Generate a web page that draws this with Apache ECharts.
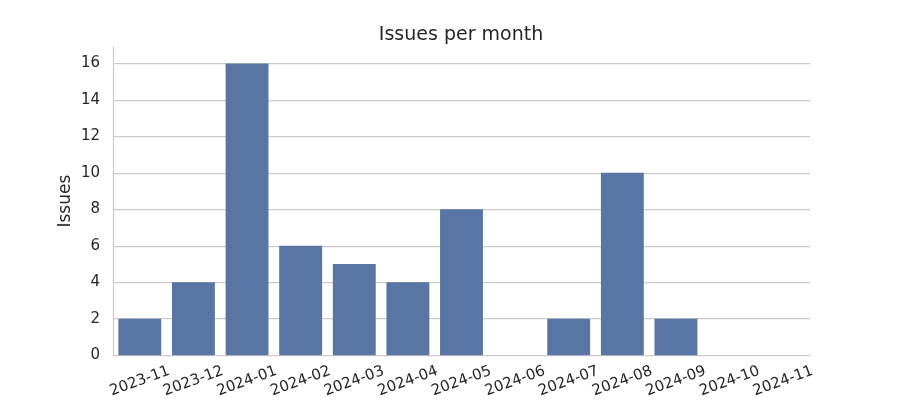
<!DOCTYPE html>
<html><head><meta charset="utf-8">
<script src="https://cdn.jsdelivr.net/npm/echarts@6/dist/echarts.min.js"></script>
<style>html,body{margin:0;padding:0;background:#fff}#c{width:900px;height:400px}</style>
</head><body><div id="c"></div>
<script>
const months = ['2023-11','2023-12','2024-01','2024-02','2024-03','2024-04','2024-05','2024-06','2024-07','2024-08','2024-09','2024-10','2024-11'];
const issues = [2,4,16,6,5,4,8,0,2,10,2,0,0];
const chart = echarts.init(document.getElementById('c'), null, {renderer:'canvas'});
const font = 'DejaVu Sans';
chart.setOption({
  animation:false,
  backgroundColor:'#ffffff',
  title:{text:'Issues per month', left:456, top:21, textAlign:'center',
    textStyle:{fontFamily:font, fontSize:19, fontWeight:'normal', color:'#262626'}},
  grid:{left:113, right:90, top:47, bottom:44, containLabel:false},
  xAxis:{type:'category', data:months, boundaryGap:true,
    axisLine:{show:true, lineStyle:{color:'#cccccc', width:1.25}},
    axisTick:{show:false},
    axisLabel:{rotate:20, align:'center', verticalAlign:'middle', margin:26, interval:0,
      fontFamily:font, fontSize:15, color:'#262626'},
    splitLine:{show:false}},
  yAxis:{type:'value', min:0, max:16.9, interval:2,
    name:'Issues', nameLocation:'middle', nameGap:39, nameRotate:90, nameMoveOverlap:false,
    nameTextStyle:{fontFamily:font, fontSize:17, color:'#262626'},
    axisLine:{show:true, lineStyle:{color:'#cccccc', width:1.25}},
    axisTick:{show:false},
    axisLabel:{showMaxLabel:false, margin:13, fontFamily:font, fontSize:15, color:'#262626'},
    splitLine:{show:true, showMinLine:false, showMaxLine:false, lineStyle:{color:'#cccccc', width:1.25}}},
  series:[{type:'bar', data:issues, barCategoryGap:'20%',
    itemStyle:{color:'#5875a4'}}]
});
</script></body></html>
